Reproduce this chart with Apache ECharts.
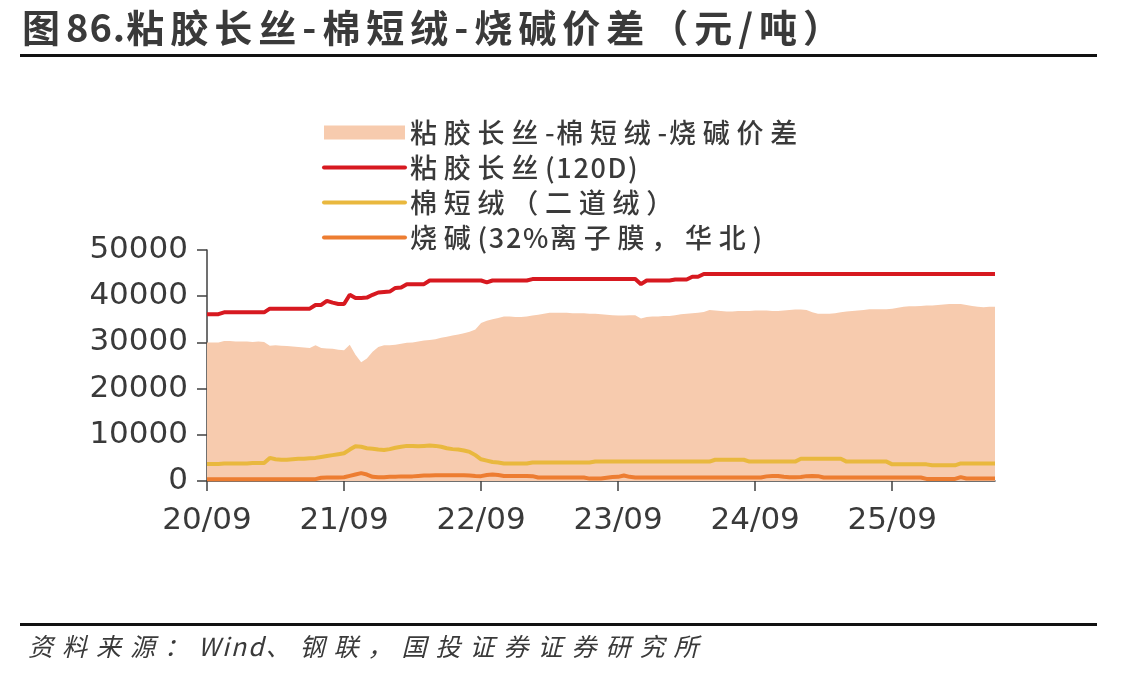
<!DOCTYPE html>
<html>
<head>
<meta charset="utf-8">
<script src="https://cdn.jsdelivr.net/npm/echarts@6/dist/echarts.min.js"></script>
<style>
html,body{margin:0;padding:0;background:#fff;}
#main{position:absolute;left:0;top:0;width:1147px;height:678px;}
#title{position:absolute;left:22px;top:3px;font-family:"Noto Sans CJK SC";font-weight:bold;font-size:38px;line-height:46px;color:#3a3a3a;letter-spacing:6px;white-space:nowrap;}
#title .lat{letter-spacing:1px;}
#src{position:absolute;left:28px;top:628px;font-family:"Noto Sans CJK SC";font-style:italic;font-size:25px;line-height:34px;color:#3a3a3a;letter-spacing:9px;white-space:nowrap;}
#src .lat{letter-spacing:2px;}
.rule{position:absolute;left:20px;width:1077px;height:3px;background:#111;}
</style>
</head>
<body>
<div id="main"></div>
<div id="title">图<span class="lat">86.</span>粘胶长丝-棉短绒-烧碱价差（元/吨）</div>
<div class="rule" style="top:54px"></div>
<div class="rule" style="top:623px"></div>
<div id="src">资料来源：<span class="lat">Wind</span>、钢联，国投证券证券研究所</div>
<script>
// Semi-monthly observations starting 2020-09-01
const startYear = 2020, startMonth = 9, pointCount = 139;
const yTicks = [0, 10000, 20000, 30000, 40000, 50000];
const seriesNames = ['粘胶长丝-棉短绒-烧碱价差', '粘胶长丝(120D)', '棉短绒（二道绒）', '烧碱(32%离子膜，华北)'];

const spread = [
30000,30000,30000,30300,30300,30200,30200,30200,30100,30200,30100,
29300,29400,29300,29200,29100,29000,28900,28800,29400,28800,28700,28600,28400,28300,
29500,27300,25700,26500,28000,29000,
29400,29400,29500,29700,29900,30000,30200,30400,30500,30700,
31000,31200,31500,31700,32000,32300,32800,34200,34700,35000,
35300,35600,35600,35500,35500,35600,35800,36000,36200,36400,
36400,36400,36400,36300,36300,36300,36200,36200,36100,36000,
35900,35800,35800,35900,35900,35200,35500,35600,35600,35700,
35700,35900,36100,36200,36300,36400,36600,37000,36900,36800,
36700,36700,36800,36800,36800,36900,36900,36900,36800,36800,
36900,37000,37100,37100,37000,36500,36200,36200,36200,36300,
36500,36700,36800,36900,37000,37200,37200,37200,37200,37300,
37500,37700,37800,37800,37900,38000,38000,38100,38200,38300,
38300,38300,38100,37900,37700,37600,37700,37700
];

const viscose = [
36100,36100,36100,36500,36500,36500,36500,36500,36500,36500,36500,
37300,37300,37300,37300,37300,37300,37300,37300,38100,38100,
39000,38600,38300,38300,40300,39600,39600,39700,40300,40800,40900,41000,41800,41900,42600,
42600,42600,42600,
43400,43400,43400,43400,43400,43400,43400,43400,43400,43400,
43000,
43400,43400,43400,43400,43400,43400,43400,
43700,43700,43700,43700,43700,43700,43700,43700,43700,43700,
43700,43700,43700,43700,43700,43700,43700,43700,43700,
42600,
43400,43400,43400,43400,43400,
43600,43600,43600,
44200,44200,
44800,44800,44800,44800,44800,44800,44800,44800,44800,44800,
44800,44800,44800,44800,44800,44800,44800,44800,44800,44800,
44800,44800,44800,44800,44800,44800,44800,44800,44800,44800,
44800,44800,44800,44800,44800,44800,44800,44800,44800,44800,
44800,44800,44800,44800,44800,44800,44800,44800,44800,44800,
44800,44800
];

const cotton = [
3700,3700,3700,
3800,3800,3800,3800,3800,3900,3900,3900,
5000,
4700,4600,4600,4700,4800,4800,4900,5000,
5200,5400,5600,5800,6000,
6800,7500,7400,7100,7000,6800,6700,
6900,7200,7400,7600,7600,7500,7600,7700,7600,
7400,7100,6900,6800,6600,6300,5600,4700,4400,4100,4000,
3800,3800,3800,3800,3800,
4000,4000,4000,4000,4000,4000,4000,4000,4000,4000,4000,
4200,4200,4200,4200,4200,4200,4200,4200,4200,4200,4200,
4200,4200,4200,4200,4200,4200,4200,4200,4200,4200,
4600,4600,4600,4600,4600,4600,
4200,4200,4200,4200,4200,4200,4200,4200,4200,
4800,4800,4800,4800,4800,4800,4800,4800,
4200,4200,4200,4200,4200,4200,4200,4200,
3600,3600,3600,3600,3600,3600,3600,
3400,3400,3400,3400,3400,
3800,3800,3800,3800,3800,3800,3800
];

const caustic = [
400,400,400,400,400,400,400,400,400,400,
400,400,400,400,400,400,400,400,400,400,
700,750,750,750,800,
1100,1400,1700,1400,900,800,800,900,
900,1000,1000,1000,1100,1200,1200,
1250,1250,1250,1250,1250,1250,
1200,1100,1050,1300,1400,1300,
1100,1100,1100,1100,1100,
1050,
750,750,750,750,750,750,750,750,750,
520,520,520,
700,870,900,1200,900,
750,750,750,750,750,750,750,750,750,750,
750,750,750,750,750,750,750,750,750,750,
750,750,750,
1000,1100,1100,900,800,800,850,1050,1100,1050,
750,750,750,750,750,750,750,750,750,
750,750,750,750,750,750,750,750,750,
450,450,450,450,450,450,
850,
550,550,550,550,550,550
];

const dates = [];
for (let i = 0; i < pointCount; i++) {
  const mIdx = startMonth - 1 + Math.floor(i / 2);
  const y = startYear + Math.floor(mIdx / 12);
  const m = (mIdx % 12) + 1;
  dates.push(y + '-' + String(m).padStart(2, '0') + '-' + (i % 2 === 0 ? '01' : '16'));
}

function isYearTick(idx, val) { return String(val).slice(5) === '09-01'; }
function spaced(s) {
  let out = '';
  for (let k = 0; k < s.length; k++) {
    const ch = s[k];
    out += ch;
    if (k < s.length - 1) out += ch.charCodeAt(0) >= 0x2E80 ? '\u2005' : '\u200A';
  }
  return out;
}

const axisColor = '#404040';
const labelFont = { fontFamily: 'DejaVu Sans', fontSize: 31, color: '#3a3a3a' };
const colors = ['#F7CBAE', '#D71920', '#E9B83E', '#ED7D31'];

const chart = echarts.init(document.getElementById('main'), null, { renderer: 'canvas' });
chart.setOption({
  animation: false,
  backgroundColor: '#fff',
  grid: { left: 207, right: 152, top: 250, bottom: 197, containLabel: false, outerBoundsMode: 'none' },
  legend: {
    orient: 'vertical',
    left: 317,
    top: 114,
    itemWidth: 81,
    itemHeight: 14,
    itemGap: 8,
    formatter: spaced,
    textStyle: { fontFamily: 'Noto Sans CJK SC', fontSize: 27, fontWeight: 500, color: '#3a3a3a', lineHeight: 26 },
    lineStyle: { width: 4, cap: 'round' },
    data: [
      { name: seriesNames[0], icon: 'rect' },
      { name: seriesNames[1], itemStyle: { opacity: 0 } },
      { name: seriesNames[2], itemStyle: { opacity: 0 } },
      { name: seriesNames[3], itemStyle: { opacity: 0 } }
    ]
  },
  xAxis: {
    type: 'category',
    data: dates,
    boundaryGap: false,
    axisLine: { show: true, lineStyle: { color: axisColor, width: 1.5 } },
    axisTick: { show: true, length: 10, interval: isYearTick, lineStyle: { color: axisColor, width: 1.5 } },
    axisLabel: Object.assign({ interval: isYearTick, margin: 24, formatter: v => v.slice(2, 4) + '/' + v.slice(5, 7) }, labelFont),
    splitLine: { show: false }
  },
  yAxis: {
    type: 'value',
    min: yTicks[0],
    max: yTicks[yTicks.length - 1],
    interval: yTicks[1] - yTicks[0],
    axisLine: { show: true, lineStyle: { color: axisColor, width: 1.5 } },
    axisTick: { show: true, length: 10, lineStyle: { color: axisColor, width: 1.5 } },
    axisLabel: Object.assign({ margin: 19, formatter: v => String(v) }, labelFont),
    splitLine: { show: false }
  },
  series: [
    { name: seriesNames[0], type: 'line', data: spread, symbol: 'none', z: 1,
      itemStyle: { color: colors[0] }, lineStyle: { width: 0, color: colors[0] },
      areaStyle: { color: colors[0], opacity: 1 } },
    { name: seriesNames[1], type: 'line', data: viscose, symbol: 'none', z: 4,
      itemStyle: { color: colors[1] }, lineStyle: { width: 4, color: colors[1] } },
    { name: seriesNames[2], type: 'line', data: cotton, symbol: 'none', z: 3,
      itemStyle: { color: colors[2] }, lineStyle: { width: 4, color: colors[2] } },
    { name: seriesNames[3], type: 'line', data: caustic, symbol: 'none', z: 3,
      itemStyle: { color: colors[3] }, lineStyle: { width: 4, color: colors[3] } }
  ]
});
</script>
</body>
</html>
